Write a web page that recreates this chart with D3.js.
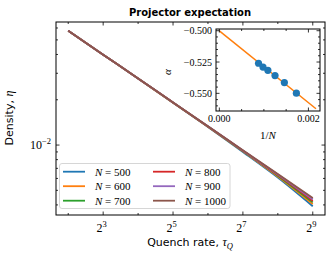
<!DOCTYPE html>
<html>
<head>
<meta charset="utf-8">
<script src="https://cdn.jsdelivr.net/npm/d3@7"></script>
<style>
  body { margin: 0; background: #fff; }
  svg { display: block; }
</style>
</head>
<body>
<svg id="chart" width="333" height="258"></svg>
<script>
// quench rates (x of main panel)
const tauQ = [4, 8, 16, 32, 64, 128, 256, 512];
const sizes = [500, 600, 700, 800, 900, 1000];

// density eta per system size
const density500 = [0.0575, 0.0399, 0.0277, 0.0191, 0.01320, 0.00900, 0.00608, 0.00392];
const density600 = [0.0575, 0.0399, 0.0277, 0.0191, 0.01324, 0.00908, 0.00618, 0.00405];
const density700 = [0.0575, 0.0399, 0.0277, 0.0192, 0.01327, 0.00913, 0.00626, 0.00416];
const density800 = [0.0575, 0.0399, 0.0277, 0.0192, 0.01330, 0.00917, 0.00632, 0.00425];
const density900 = [0.0575, 0.0399, 0.0277, 0.0192, 0.01332, 0.00920, 0.00637, 0.00435];
const density1000 = [0.0575, 0.0399, 0.0277, 0.0192, 0.01334, 0.00923, 0.00642, 0.00444];

// inset: fitted exponent vs 1/N
const invN = [0.00088, 0.00098, 0.00109, 0.00125, 0.00146, 0.00173];
const alpha = [-0.5260, -0.5290, -0.5316, -0.5358, -0.5414, -0.5499];
const fitInvN = [0, 0.00217];
const fitAlpha = [-0.5002, -0.5623];

const colors = ['#1f77b4', '#ff7f0e', '#2ca02c', '#d62728', '#9467bd', '#8c564b'];
const series = [density500, density600, density700, density800, density900, density1000];

const serif = "'Liberation Serif', 'DejaVu Serif', serif";
const sans = "'DejaVu Sans', sans-serif";

const svg = d3.select('#chart');

// ---------- main panel ----------
const box = { left: 56, right: 325, top: 22, bottom: 215 };

const x = d3.scaleLog().base(2)
  .domain([Math.pow(2, 1.65), Math.pow(2, 9.35)])
  .range([box.left, box.right]);
const y = d3.scaleLog()
  .domain([Math.pow(10, -2.465), Math.pow(10, -1.182)])
  .range([box.bottom, box.top]);

const line = d3.line()
  .curve(d3.curveMonotoneX)
  .x(d => x(d[0]))
  .y(d => y(d[1]));

series.forEach((vals, i) => {
  svg.append('path')
    .datum(tauQ.map((t, j) => [t, vals[j]]))
    .attr('d', line)
    .attr('fill', 'none')
    .attr('stroke', colors[i])
    .attr('stroke-width', 1.8);
});

// ticks pointing inwards, on all four sides
function ticks(values, scale, side, len, b) {
  const g = svg.append('g').attr('stroke', '#000').attr('stroke-width', 0.8);
  values.forEach(v => {
    const p = scale(v);
    if (side === 'bottom') g.append('line').attr('x1', p).attr('x2', p).attr('y1', b.bottom).attr('y2', b.bottom - len);
    if (side === 'top') g.append('line').attr('x1', p).attr('x2', p).attr('y1', b.top).attr('y2', b.top + len);
    if (side === 'left') g.append('line').attr('y1', p).attr('y2', p).attr('x1', b.left).attr('x2', b.left + len);
    if (side === 'right') g.append('line').attr('y1', p).attr('y2', p).attr('x1', b.right).attr('x2', b.right - len);
  });
}

const xMajor = [8, 32, 128, 512];
const xMinor = [4, 16, 64, 256];
const yMajor = [0.01];
const yMinor = [0.004, 0.005, 0.006, 0.007, 0.008, 0.009, 0.02, 0.03, 0.04, 0.05, 0.06];

['bottom', 'top'].forEach(s => {
  ticks(xMajor, x, s, 3.5, box);
  ticks(xMinor, x, s, 2, box);
});
['left', 'right'].forEach(s => {
  ticks(yMajor, y, s, 3.5, box);
  ticks(yMinor, y, s, 2, box);
});

svg.append('rect')
  .attr('x', box.left).attr('y', box.top)
  .attr('width', box.right - box.left).attr('height', box.bottom - box.top)
  .attr('fill', 'none').attr('stroke', '#000').attr('stroke-width', 1);

// x tick labels 2^k
xMajor.forEach(v => {
  const t = svg.append('text')
    .attr('x', x(v) - 1.5).attr('y', 232)
    .attr('text-anchor', 'middle')
    .attr('font-family', serif).attr('font-size', 12);
  t.append('tspan').text('2');
  t.append('tspan').attr('font-size', 8.5).attr('dy', -5).text(Math.round(Math.log2(v)));
});

// y tick label 10^-2
yMajor.forEach(v => {
  const t = svg.append('text')
    .attr('x', 51).attr('y', y(v) + 4)
    .attr('text-anchor', 'end')
    .attr('font-family', serif).attr('font-size', 12);
  t.append('tspan').text('10');
  t.append('tspan').attr('font-size', 8.5).attr('dy', -5).text('\u22122');
});

// titles
svg.append('text')
  .attr('x', 190).attr('y', 16)
  .attr('text-anchor', 'middle')
  .attr('font-family', sans).attr('font-weight', 'bold').attr('font-size', 10)
  .text('Projector expectation');

const xl = svg.append('text')
  .attr('x', 190).attr('y', 246)
  .attr('text-anchor', 'middle')
  .attr('font-family', sans).attr('font-size', 11);
xl.append('tspan').text('Quench rate, ');
xl.append('tspan').attr('font-family', serif).attr('font-style', 'italic').attr('font-size', 12).text('\u03c4');
xl.append('tspan').attr('font-family', serif).attr('font-style', 'italic').attr('font-size', 8.5).attr('dy', 2.5).text('Q');

const yl = svg.append('text')
  .attr('transform', 'translate(13, 118) rotate(-90)')
  .attr('text-anchor', 'middle')
  .attr('font-family', sans).attr('font-size', 11);
yl.append('tspan').text('Density, ');
yl.append('tspan').attr('font-family', serif).attr('font-style', 'italic').attr('font-size', 12).text('\u03b7');

// legend
const leg = svg.append('g');
leg.append('rect')
  .attr('x', 59.5).attr('y', 163.5).attr('width', 170.5).attr('height', 45).attr('rx', 2.5)
  .attr('fill', '#fff').attr('fill-opacity', 0.8)
  .attr('stroke', '#cccccc').attr('stroke-width', 0.8);
sizes.forEach((n, i) => {
  const col = Math.floor(i / 3);
  const row = i % 3;
  const lx = col === 0 ? 63 : 153;
  const ly = 171.7 + row * 14.5;
  leg.append('line')
    .attr('x1', lx).attr('x2', lx + 22).attr('y1', ly).attr('y2', ly)
    .attr('stroke', colors[i]).attr('stroke-width', 1.8);
  const t = leg.append('text')
    .attr('x', lx + 32).attr('y', ly + 3.8)
    .attr('font-family', serif).attr('font-size', 11);
  t.append('tspan').attr('font-style', 'italic').text('N');
  t.append('tspan').text(' = ' + n);
});

// ---------- inset ----------
const ib = { left: 216, right: 320, top: 29, bottom: 111 };
const ix = d3.scaleLinear().domain([-0.000075, 0.00226]).range([ib.left, ib.right]);
const iy = d3.scaleLinear().domain([-0.5641, -0.49864]).range([ib.bottom, ib.top]);

svg.append('rect')
  .attr('x', ib.left).attr('y', ib.top)
  .attr('width', ib.right - ib.left).attr('height', ib.bottom - ib.top)
  .attr('fill', '#fff');

svg.append('path')
  .datum(fitInvN.map((v, j) => [v, fitAlpha[j]]))
  .attr('d', d3.line().x(d => ix(d[0])).y(d => iy(d[1])))
  .attr('stroke', colors[1]).attr('stroke-width', 1.5).attr('fill', 'none');

svg.append('g').selectAll('circle')
  .data(invN.map((v, j) => [v, alpha[j]]))
  .join('circle')
  .attr('cx', d => ix(d[0])).attr('cy', d => iy(d[1]))
  .attr('r', 3.6).attr('fill', colors[0]);

const ixMajor = [0, 0.002];
const ixMinor = [0.0005, 0.001, 0.0015];
const iyMajor = [-0.5, -0.525, -0.55];
const iyMinor = [-0.505, -0.51, -0.515, -0.52, -0.53, -0.535, -0.54, -0.545, -0.555, -0.56];

['bottom', 'top'].forEach(s => {
  ticks(ixMajor, ix, s, 3.5, ib);
  ticks(ixMinor, ix, s, 2, ib);
});
['left', 'right'].forEach(s => {
  ticks(iyMajor, iy, s, 3.5, ib);
  ticks(iyMinor, iy, s, 2, ib);
});

svg.append('rect')
  .attr('x', ib.left).attr('y', ib.top)
  .attr('width', ib.right - ib.left).attr('height', ib.bottom - ib.top)
  .attr('fill', 'none').attr('stroke', '#000').attr('stroke-width', 1);

ixMajor.forEach(v => {
  svg.append('text')
    .attr('x', ix(v)).attr('y', 121.5)
    .attr('text-anchor', 'middle')
    .attr('font-family', serif).attr('font-size', 10)
    .text(d3.format('.3f')(v));
});
iyMajor.forEach(v => {
  svg.append('text')
    .attr('x', 212).attr('y', iy(v) + 3.5)
    .attr('text-anchor', 'end')
    .attr('font-family', serif).attr('font-size', 10)
    .text(d3.format('.3f')(v).replace('-', '\u2212'));
});

const il = svg.append('text')
  .attr('x', 268).attr('y', 139)
  .attr('text-anchor', 'middle')
  .attr('font-family', serif).attr('font-size', 11);
il.append('tspan').text('1/');
il.append('tspan').attr('font-style', 'italic').text('N');

svg.append('text')
  .attr('transform', 'translate(171, 72) rotate(-90)')
  .attr('text-anchor', 'middle')
  .attr('font-family', serif).attr('font-style', 'italic').attr('font-size', 11)
  .text('\u03b1');
</script>
</body>
</html>
